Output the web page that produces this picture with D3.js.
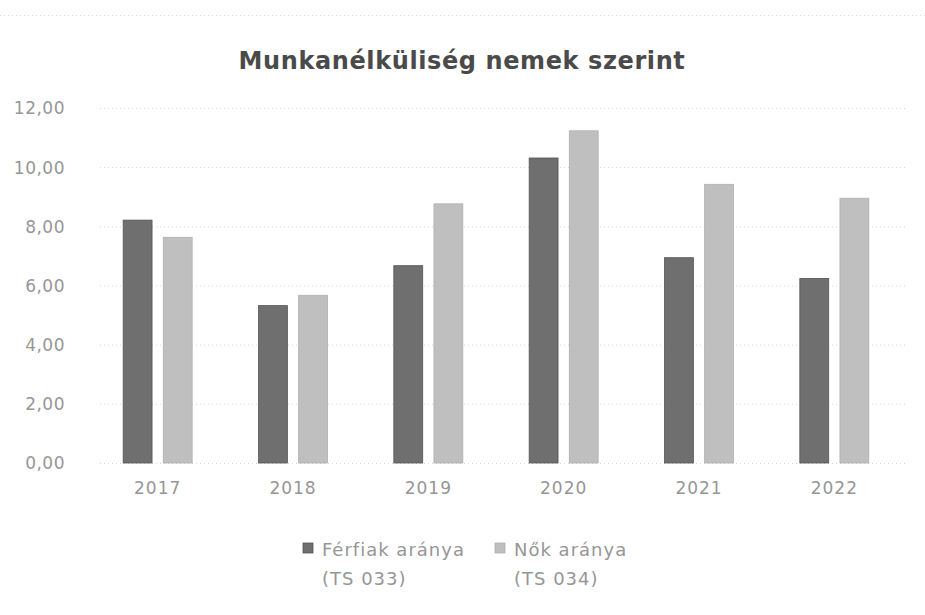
<!DOCTYPE html>
<html>
<head>
<meta charset="utf-8">
<script src="https://cdn.jsdelivr.net/npm/d3@7/dist/d3.min.js"></script>
<style>
  html, body { margin: 0; padding: 0; background: #fff; }
  svg { display: block; }
</style>
</head>
<body>
<svg id="chart" width="925" height="615"></svg>
<script>
const title = "Munkanélküliség nemek szerint";
const categories = ["2017", "2018", "2019", "2020", "2021", "2022"];
const ferfiak = [8.21, 5.32, 6.67, 10.31, 6.94, 6.24];
const nok = [7.63, 5.67, 8.76, 11.23, 9.42, 8.95];
const yTicks = [0, 2, 4, 6, 8, 10, 12];
const seriesNames = [["Férfiak aránya", "(TS 033)"], ["Nők aránya", "(TS 034)"]];
const seriesColors = ["#6f6f6f", "#bfbfbf"];
const seriesStroke = ["#555555", "#b0b0b0"];

const svg = d3.select("#chart");
const W = 925, H = 615;
const margin = { left: 90, right: 23, top: 108, bottom: 152 };
const labelFont = "'DejaVu Sans', Verdana, sans-serif";
const labelColor = "#969696";

const x = d3.scaleBand().domain(categories).range([margin.left, W - margin.right]).paddingInner(0).paddingOuter(0);
const inner = d3.scaleBand().domain([0, 1]).range([0, 69]).paddingInner(0.28);
const y = d3.scaleLinear().domain([0, 12]).range([H - margin.bottom, margin.top]);

const fmt = v => d3.format(".2f")(v).replace(".", ",");

// top border dotted
svg.append("line").attr("x1", 0).attr("x2", W).attr("y1", 15.5).attr("y2", 15.5)
  .attr("stroke", "#d8d8d8").attr("stroke-dasharray", "1,3");

// gridlines
const grid = svg.append("g").attr("transform", `translate(${margin.left + 10},0)`)
  .call(d3.axisLeft(y).tickValues(yTicks).tickSize(0).tickFormat(""));
grid.select(".domain").remove();
grid.selectAll(".tick line").attr("x1", 0).attr("x2", W - margin.right - margin.left - 5)
  .attr("stroke", "#d4d4d4").attr("stroke-dasharray", "1,3");

// y axis labels
const yAxis = svg.append("g").attr("transform", `translate(65,0)`)
  .call(d3.axisLeft(y).tickValues(yTicks).tickSize(0).tickPadding(0).tickFormat(fmt));
yAxis.select(".domain").remove();
yAxis.selectAll("text").attr("fill", labelColor).style("font-family", labelFont).style("font-size", "17px").style("letter-spacing", "0.5px").attr("dy", "0.35em");

// x axis labels
const xAxis = svg.append("g").attr("transform", `translate(0,${H - margin.bottom})`)
  .call(d3.axisBottom(x).tickSize(0).tickPadding(19));
xAxis.select(".domain").remove();
xAxis.selectAll("text").attr("fill", labelColor).style("font-family", labelFont).style("font-size", "17px").style("letter-spacing", "1px");

// bars
const data = categories.map((c, i) => ({ c, vals: [ferfiak[i], nok[i]] }));
const groups = svg.append("g").selectAll("g").data(data).join("g")
  .attr("transform", d => `translate(${x(d.c) + x.bandwidth() / 2 - 34.5},0)`);
groups.selectAll("rect").data(d => d.vals.map((v, k) => ({ v, k }))).join("rect")
  .attr("x", d => inner(d.k))
  .attr("width", inner.bandwidth())
  .attr("y", d => y(d.v))
  .attr("height", d => y(0) - y(d.v))
  .attr("fill", d => seriesColors[d.k])
  .attr("stroke", d => seriesStroke[d.k])
  .attr("stroke-width", 0.8);

// title
svg.append("text").attr("x", 462).attr("y", 69).attr("text-anchor", "middle")
  .attr("fill", "#4a4a4a").style("font-family", "'DejaVu Sans', sans-serif")
  .style("font-weight", "bold").style("font-size", "24px").style("letter-spacing", "0.6px").text(title);

// legend
const legendX = [303, 495];
const legend = svg.append("g").selectAll("g").data(seriesNames).join("g")
  .attr("transform", (d, i) => `translate(${legendX[i]},0)`);
legend.append("rect").attr("x", 0).attr("y", 543).attr("width", 10).attr("height", 10)
  .attr("fill", (d, i) => seriesColors[i]).attr("stroke", (d, i) => seriesStroke[i]).attr("stroke-width", 0.8);
legend.append("text").attr("x", 19).attr("y", 556)
  .attr("fill", labelColor).style("font-family", labelFont).style("font-size", "18px").style("letter-spacing", "1px")
  .text(d => d[0]);
legend.append("text").attr("x", 19).attr("y", 585)
  .attr("fill", labelColor).style("font-family", labelFont).style("font-size", "18px").style("letter-spacing", "1px")
  .text(d => d[1]);
</script>
</body>
</html>
